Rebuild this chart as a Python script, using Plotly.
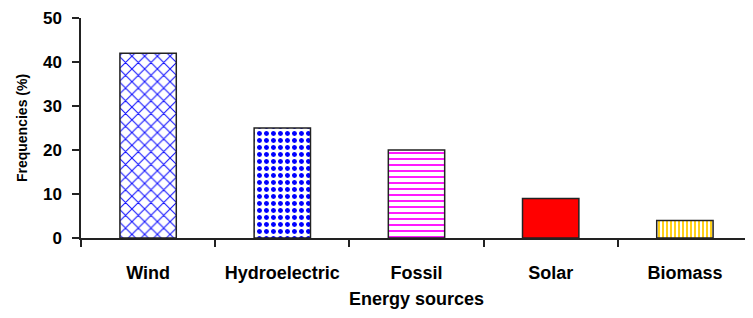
import plotly.graph_objects as go

categories = ["Wind", "Hydroelectric", "Fossil", "Solar", "Biomass"]
frequencies = [42, 25, 20, 9, 4]
y_ticks = [0, 10, 20, 30, 40, 50]

pattern_shapes = ["x", ".", "-", "", "|"]
pattern_colors = ["#1010ff", "#0000ff", "#ff00ff", "#ff0000", "#ffcc00"]
bar_colors = ["white", "white", "white", "#ff0000", "white"]
pattern_sizes = [9, 7, 6, 8, 4]
pattern_solidity = [0.22, 0.4, 0.3, 0.3, 0.45]

FONT = "Liberation Sans, Arial, sans-serif"

fig = go.Figure()
for cat, val, shp, fg, bg, sz, so in zip(categories, frequencies, pattern_shapes,
                                        pattern_colors, bar_colors, pattern_sizes,
                                        pattern_solidity):
    fig.add_trace(go.Bar(
        x=[cat], y=[val],
        marker=dict(
            color=bg,
            line=dict(color="#222222", width=1.5),
            pattern=dict(shape=shp, fgcolor=fg, bgcolor=bg, size=sz,
                         solidity=so, fgopacity=1),
        ),
        width=0.42,
    ))

fig.update_layout(
    width=745, height=310,
    margin=dict(l=73, r=1, t=10, b=80),
    paper_bgcolor="white", plot_bgcolor="white",
    showlegend=False, barmode="overlay",
    font=dict(family=FONT, color="black"),
)
fig.update_xaxes(
    categoryorder="array", categoryarray=categories,
    showline=True, linecolor="#222222", linewidth=1.5,
    ticks="outside", tickson="boundaries", ticklen=7, tickcolor="#222222", tickwidth=1.5,
    tickfont=dict(size=18, family=FONT, weight="bold"),
    ticklabelstandoff=18,
    title=dict(text="<b>Energy sources</b>", font=dict(size=18, family=FONT), standoff=10),
    showgrid=False,
)
fig.update_yaxes(
    range=[0, 50], tickvals=y_ticks,
    showline=True, linecolor="#222222", linewidth=1.5,
    ticks="outside", ticklen=7, tickcolor="#222222", tickwidth=1.5,
    tickfont=dict(size=17, family=FONT, weight="bold"),
    ticklabelstandoff=7,
    title=dict(text="<b>Frequencies (%)</b>", font=dict(size=14, family=FONT), standoff=12),
    showgrid=False, zeroline=False,
)

fig.write_html("out.html")
